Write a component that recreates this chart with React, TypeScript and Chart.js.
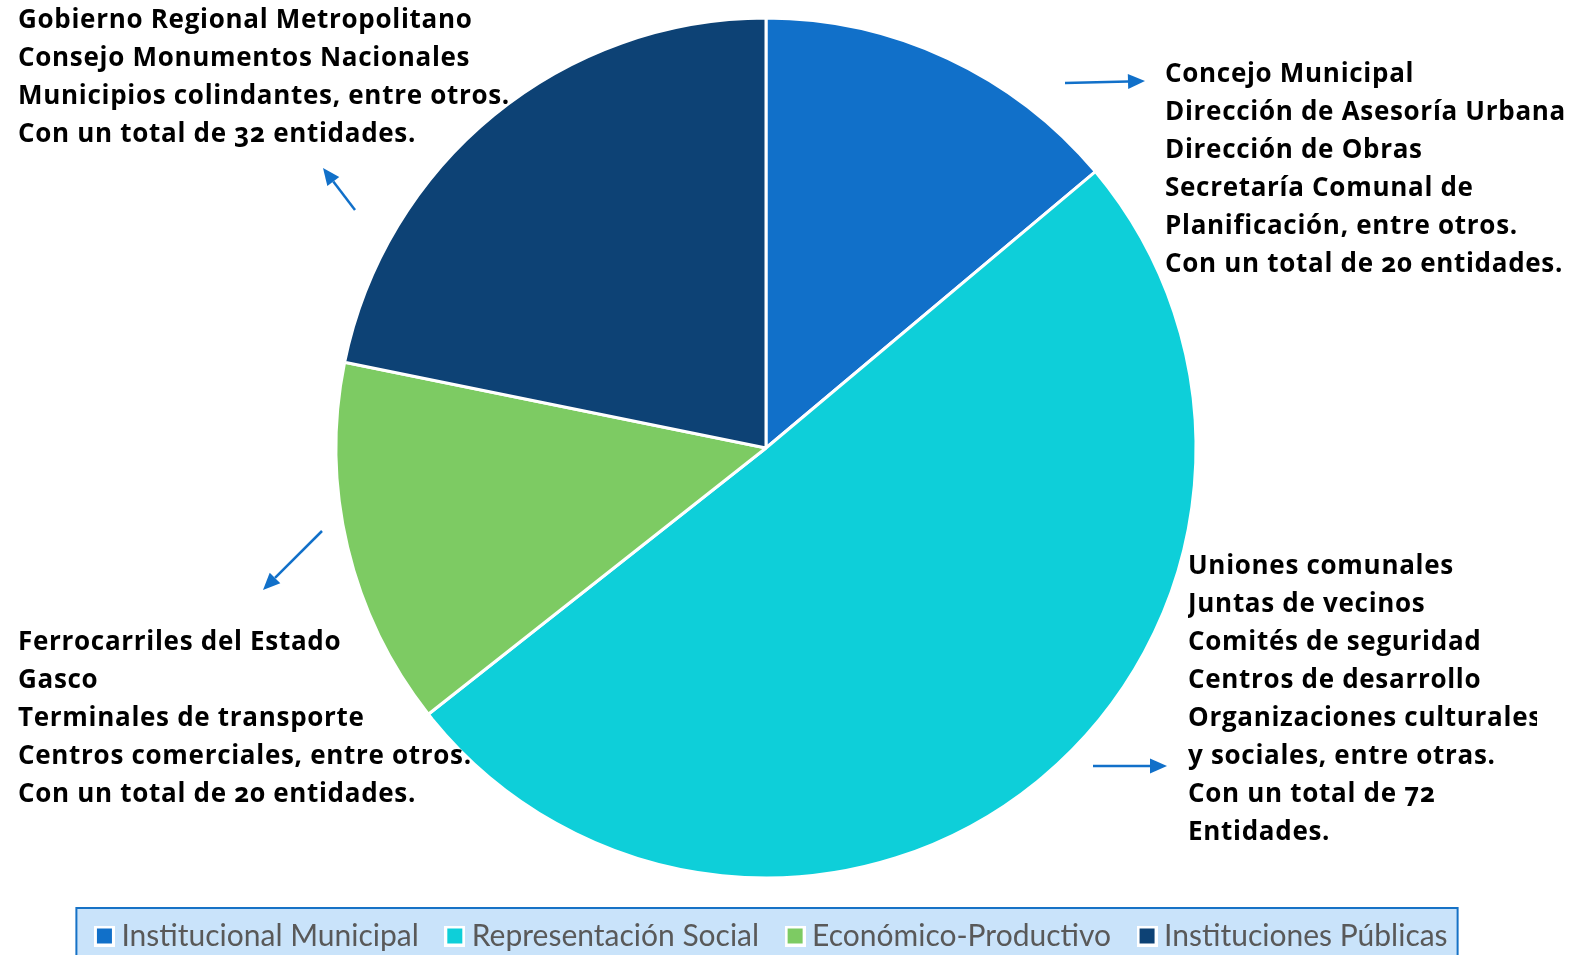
import React, { useEffect, useRef } from "react";
import { Chart, registerables } from "chart.js";

Chart.register(...registerables);

// ---- Data ----
const categories = [
  "Institucional Municipal",
  "Representación Social",
  "Económico-Productivo",
  "Instituciones Públicas",
];
// slice sizes (angles ≈ 50°, 182°, 50°, 78°)
const entityCounts = [20, 72.7, 19.9, 31.4];
const sliceColors = ["#1170C9", "#0ECFD9", "#7DCB63", "#0D4275"];

const notePublicas = [
  "Gobierno Regional Metropolitano",
  "Consejo Monumentos Nacionales",
  "Municipios colindantes, entre otros.",
  "Con un total de 32 entidades.",
];
const noteMunicipal = [
  "Concejo Municipal",
  "Dirección de Asesoría Urbana",
  "Dirección de Obras",
  "Secretaría Comunal de",
  "Planificación, entre otros.",
  "Con un total de 20 entidades.",
];
const noteSocial = [
  "Uniones comunales",
  "Juntas de vecinos",
  "Comités de seguridad",
  "Centros de desarrollo",
  "Organizaciones culturales",
  "y sociales, entre otras.",
  "Con un total de 72",
  "Entidades.",
];
const noteEconomico = [
  "Ferrocarriles del Estado",
  "Gasco",
  "Terminales de transporte",
  "Centros comerciales, entre otros.",
  "Con un total de 20 entidades.",
];

// ---- Styling / layout (annotations) ----
const ARROW_COLOR = "#1170C9";
const arrowPaths = [
  { from: [1065, 83], to: [1145, 81] },
  { from: [355, 210], to: [323, 168] },
  { from: [322, 531], to: [263, 590] },
  { from: [1093, 766], to: [1167, 766] },
];

const NOTE_FONT = "'Open Sans', Lato, sans-serif";
const notes = [
  { lines: notePublicas, left: 18, top: -1, width: 540 },
  { lines: noteMunicipal, left: 1165, top: 53, width: 431 },
  { lines: noteSocial, left: 1188, top: 545, width: 349 },
  { lines: noteEconomico, left: 18, top: 621, width: 540 },
];

const LEGEND_CENTER_X = 771;

function makeMarker(color: string) {
  const c = document.createElement("canvas");
  c.width = 21;
  c.height = 21;
  const g = c.getContext("2d")!;
  g.fillStyle = "#FFFFFF";
  g.fillRect(0, 0, 21, 21);
  g.fillStyle = color;
  g.fillRect(3, 3, 15, 15);
  return c;
}

const arrowPlugin = {
  id: "arrows",
  afterDraw(chart: any) {
    const ctx = chart.ctx;
    ctx.save();
    ctx.strokeStyle = ARROW_COLOR;
    ctx.fillStyle = ARROW_COLOR;
    ctx.lineWidth = 2.5;
    for (const a of arrowPaths) {
      const [x1, y1] = a.from;
      const [x2, y2] = a.to;
      const ang = Math.atan2(y2 - y1, x2 - x1);
      const headLen = 17;
      const headHalf = 7.5;
      const bx = x2 - headLen * Math.cos(ang);
      const by = y2 - headLen * Math.sin(ang);
      ctx.beginPath();
      ctx.moveTo(x1, y1);
      ctx.lineTo(bx, by);
      ctx.stroke();
      ctx.beginPath();
      ctx.moveTo(x2, y2);
      ctx.lineTo(bx + headHalf * Math.sin(ang), by - headHalf * Math.cos(ang));
      ctx.lineTo(bx - headHalf * Math.sin(ang), by + headHalf * Math.cos(ang));
      ctx.closePath();
      ctx.fill();
    }
    ctx.restore();
  },
};

const legendBoxPlugin = {
  id: "legendBox",
  afterUpdate(chart: any) {
    const lg = chart.legend;
    if (!lg || !lg.legendHitBoxes || !lg.legendHitBoxes.length) return;
    const boxes = lg.legendHitBoxes;
    const first = boxes[0];
    const last = boxes[boxes.length - 1];
    const visLeft = first.left - 8.5;
    const visRight = last.left + last.width;
    const dx = Math.round(LEGEND_CENTER_X - (visLeft + visRight) / 2);
    lg.left += dx;
    lg.right += dx;
    for (const b of boxes) b.left += dx;
  },
  beforeDraw(chart: any) {
    const lg = chart.legend;
    if (!lg || !lg.legendHitBoxes || !lg.legendHitBoxes.length) return;
    const boxes = lg.legendHitBoxes;
    const first = boxes[0];
    const last = boxes[boxes.length - 1];
    const left = first.left - 26;
    const right = last.left + last.width + 10;
    const top = first.top - 13;
    const bottom = chart.height + 5;
    const ctx = chart.ctx;
    ctx.save();
    ctx.fillStyle = "#C9E3FA";
    ctx.fillRect(left, top, right - left, bottom - top);
    ctx.strokeStyle = "#1672C6";
    ctx.lineWidth = 2;
    ctx.strokeRect(left, top, right - left, bottom - top);
    ctx.restore();
  },
};

export default function App() {
  const canvasRef = useRef<HTMLCanvasElement | null>(null);

  useEffect(() => {
    if (!canvasRef.current) return;
    const markers = sliceColors.map(makeMarker);
    const chart = new Chart(canvasRef.current, {
      type: "pie",
      data: {
        labels: categories,
        datasets: [
          {
            data: entityCounts,
            backgroundColor: sliceColors,
            borderColor: "#FFFFFF",
            borderWidth: 3,
            radius: 430,
            offset: 0,
            hoverOffset: 0,
          },
        ],
      },
      options: {
        responsive: false,
        animation: false,
        devicePixelRatio: 1,
        layout: { padding: { top: 9, left: 0, right: 64, bottom: -6 } },
        plugins: {
          legend: {
            display: true,
            position: "bottom",
            labels: {
              usePointStyle: true,
              pointStyleWidth: 4,
              boxHeight: 16,
              padding: 34,
              color: "#595959",
              font: { family: "Lato, 'Open Sans', sans-serif", size: 30, weight: "normal" },
              generateLabels(chart: any) {
                const items = Chart.overrides.pie.plugins.legend.labels.generateLabels(chart);
                return items.map((it: any, i: number) => ({ ...it, pointStyle: markers[i], lineWidth: 0 }));
              },
            },
          },
          tooltip: { enabled: false },
        },
      },
      plugins: [legendBoxPlugin, arrowPlugin],
    } as any);
    return () => chart.destroy();
  }, []);

  return (
    <div style={{ position: "absolute", left: 0, top: 0, width: 1596, height: 955, background: "#fff", overflow: "hidden" }}>
      <canvas ref={canvasRef} width={1596} height={955} style={{ position: "absolute", left: 0, top: 0, width: 1596, height: 955 }} />
      {notes.map((n, i) => (
        <div
          key={i}
          style={{
            position: "absolute",
            left: n.left,
            top: n.top,
            width: n.width,
            overflow: "hidden",
            whiteSpace: "nowrap",
            fontFamily: NOTE_FONT,
            fontWeight: 700,
            fontSize: 26,
            letterSpacing: "0.7px",
            lineHeight: "38px",
            color: "#000",
            fontVariantNumeric: "oldstyle-nums",
          }}
        >
          {n.lines.map((l, j) => (
            <div key={j}>{l}</div>
          ))}
        </div>
      ))}
    </div>
  );
}
